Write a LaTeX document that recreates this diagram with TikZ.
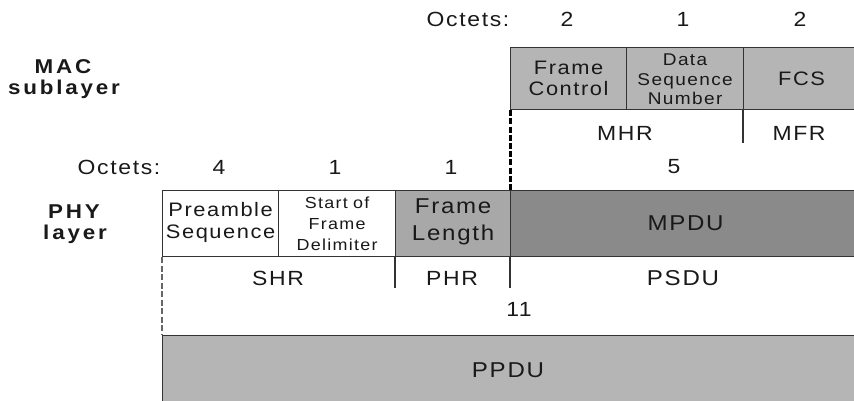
\documentclass[tikz,border=0pt]{standalone}
\usepackage{fontspec}
\setmainfont{Liberation Sans}[LetterSpace=8, FakeStretch=1.12]
\begin{document}
\begin{tikzpicture}[x=1pt,y=-1pt,
  every node/.style={text=black!90},
  fs/.style={font=\fontsize{#1}{#1}\selectfont},
  field/.style={draw=black!80, line width=1.2pt, anchor=north west, inner sep=0pt, align=center},
  divider/.style={draw=black!80, line width=1.2pt},
  cut/.style={draw=black, line width=3pt, dash pattern=on 6pt off 2.2pt},
  cutlight/.style={draw=black!60, line width=2.2pt, dash pattern=on 6pt off 2.5pt},
  txt/.style={inner sep=0pt, align=center},
  lay/.style={inner sep=0pt, align=center, font=\fontsize{20}{22}\selectfont\bfseries\addfontfeature{LetterSpace=14}},
  macfill/.style={fill=black!29},
  flfill/.style={fill=black!34},
  mpdufill/.style={fill=black!46},
  ppdufill/.style={fill=black!29}
]
\useasboundingbox (0,0) rectangle (854,400);

% MAC fields
\node[field, macfill, minimum width=116pt, minimum height=62pt] (fc) at (510,47) {};
\node[field, macfill, minimum width=117pt, minimum height=62pt] (dsn) at (626,47) {};
\node[field, macfill, minimum width=116pt, minimum height=62pt] (fcs) at (743,47) {};
\node[txt, fs=19.5, text width=112pt] at (fc.center) {Frame\\[2pt]Control};
\node[txt, font=\fontsize{17}{19.5}\selectfont, text width=116pt] at ([yshift=-1pt]dsn.center) {Data\\Sequence\\Number};
\node[txt, fs=19.5] at (fcs.center) {FCS};

% PHY fields
\node[field, minimum width=116pt, minimum height=66pt] (pre) at (162,190) {};
\node[field, minimum width=117pt, minimum height=66pt] (sfd) at (278,190) {};
\node[field, flfill, minimum width=115pt, minimum height=66pt] (fl) at (395,190) {};
\node[field, mpdufill, minimum width=350pt, minimum height=66pt] (mpdu) at (510,190) {};
\node[txt, fs=19.5, text width=114pt] at ([yshift=1pt]pre.center) {Preamble\\[3pt]Sequence};
\node[txt, font=\fontsize{16}{21}\selectfont, text width=116pt] at (sfd.center) {Start of\\Frame\\Delimiter};
\node[txt, fs=21.5] at ([yshift=2pt]fl.center) {Frame\\[5pt]Length};
\node[txt, fs=21.5] at (mpdu.center) {MPDU};

% PPDU
\node[field, ppdufill, minimum width=698pt, minimum height=70pt] (ppdu) at (162,335) {};
\node[txt, fs=21.5] at (508,370) {PPDU};

% dividers
\coordinate (mfrend) at (743,143);
\coordinate (phrend) at (395,288);
\coordinate (psduend) at (510,288);
\draw[divider] (fcs.south west) -- (mfrend);
\draw[divider] (fl.south west) -- (phrend);
\draw[divider] (mpdu.south west) -- (psduend);
\draw[cut] (fc.south west) -- (mpdu.north west);
\draw[cutlight] (pre.south west) -- (ppdu.north west);

% row labels
\node[txt, fs=20.5] at (625,133) {MHR};
\node[txt, fs=20.5] at (799,133) {MFR};
\node[txt, fs=20.5] at (278,278) {SHR};
\node[txt, fs=20.5] at (452,278) {PHR};
\node[txt, fs=21.5] at (683,278) {PSDU};

% octets
\node[txt, fs=20.5] at (468,19) {Octets:};
\node[txt, fs=20.5] at (567,19) {2};
\node[txt, fs=20.5] at (683,19) {1};
\node[txt, fs=20.5] at (800,19) {2};
\node[txt, fs=20.5] at (119,167) {Octets:};
\node[txt, fs=20.5] at (219,167) {4};
\node[txt, fs=20.5] at (335,167) {1};
\node[txt, fs=20.5] at (451,167) {1};
\node[txt, fs=20.5] at (674,167) {5};
\node[txt, fs=20.5] at (519,309) {11};

% layer labels
\node[lay] at (63,67) {MAC};
\node[lay] at (64,89) {sublayer};
\node[lay] at (74,212) {PHY};
\node[lay] at (75,234) {layer};
\end{tikzpicture}
\end{document}
